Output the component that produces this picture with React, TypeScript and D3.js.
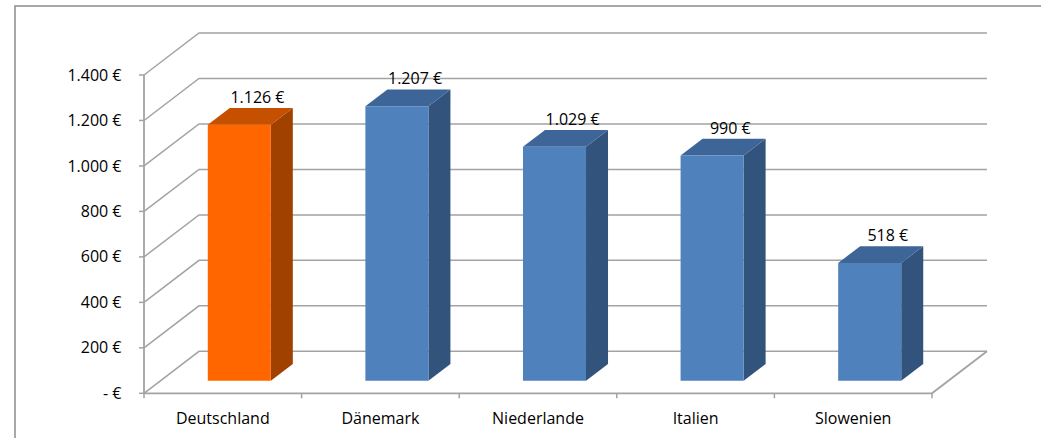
import React from "react";
import * as d3 from "d3";

const categories: string[] = ["Deutschland", "Dänemark", "Niederlande", "Italien", "Slowenien"];
const values: number[] = [1126, 1207, 1029, 990, 518];
const highlight: boolean[] = [true, false, false, false, false];
const tickValues: number[] = [0, 200, 400, 600, 800, 1000, 1200, 1400];

const W = 1041;
const H = 438;
const DX = 55;
const DY = 42;
const FONT = "'Open Sans', 'Noto Sans', sans-serif";

const loc = d3.formatLocale({ decimal: ",", thousands: ".", grouping: [3], currency: ["", " €"] });
const fmtNum = loc.format(",.0f");
const fmtEuro = (v: number) => (v === 0 ? "- €" : `${fmtNum(v)} €`);

const proj = (x: number, y: number, d: number): [number, number] => [x + DX * d, y - DY * d];
const pts = (p: [number, number][]) => p.map((q) => q.join(",")).join(" ");

export default function App() {
  const x = d3.scaleBand<string>().domain(categories).range([144, 932]).padding(0);
  const y = d3.scaleLinear().domain([0, 1400]).range([393.3, 75]);
  const bw = x.bandwidth();
  const [x0, x1] = x.range();
  const y0 = y(0);

  const grid = "#a3a3a3";
  const colors = {
    orange: { front: "#ff6600", top: "#c45000", side: "#a04100" },
    blue: { front: "#4f81bd", top: "#3d6597", side: "#31537c" },
  };

  return (
    <div style={{ position: "fixed", left: 0, top: 0 }}>
      <svg width={W} height={H} style={{ display: "block", background: "#fff" }}>
        <rect x={15} y={6} width={1100} height={600} fill="#fff" stroke="#8c8c8c" strokeWidth={1.5} />
        {/* gridlines: left wall diagonal + back wall horizontal */}
        {tickValues.map((t) => {
          const yy = y(t);
          const a = proj(x0, yy, 0);
          const b = proj(x0, yy, 1);
          const c = proj(x1, yy, 1);
          return (
            <polyline key={t} points={pts([a, b, c])} fill="none" stroke={grid} strokeWidth={1.5} />
          );
        })}
        {/* floor */}
        <polyline
          points={pts([proj(x0, y0, 0), proj(x1, y0, 0), proj(x1, y0, 1)])}
          fill="none"
          stroke={grid}
          strokeWidth={1.8}
        />
        {/* value axis */}
        <line x1={x0} x2={x0} y1={y(1400)} y2={y0} stroke={grid} strokeWidth={1.8} />
        {tickValues.map((t) => (
          <g key={"t" + t}>
            <line x1={x0 - 5} x2={x0} y1={y(t)} y2={y(t)} stroke={grid} strokeWidth={1.5} />
            <text x={121.5} y={y(t)} dy="0.35em" textAnchor="end" fontFamily={FONT} fontSize={16} fill="#000">
              {fmtEuro(t)}
            </text>
          </g>
        ))}
        {/* category ticks */}
        {[...categories.map((c) => x(c) as number), x1].map((v, i) => (
          <line key={"c" + i} x1={v} x2={v} y1={y0} y2={y0 + 5} stroke={grid} strokeWidth={1.5} />
        ))}
        {categories.map((c) => (
          <text
            key={"l" + c}
            x={(x(c) as number) + bw / 2}
            y={424}
            textAnchor="middle"
            fontFamily={FONT}
            fontSize={16}
            fill="#000"
          >
            {c}
          </text>
        ))}
        {/* bars */}
        {categories.map((c, i) => {
          const v = values[i];
          const col = highlight[i] ? colors.orange : colors.blue;
          const L = (x(c) as number) + bw * 0.3;
          const R = L + bw * 0.4;
          const yt = y(v);
          const d1 = 0.3;
          const d2 = 0.7;
          const fTL = proj(L, yt, d1);
          const fTR = proj(R, yt, d1);
          const fBR = proj(R, y0, d1);
          const fBL = proj(L, y0, d1);
          const bTL = proj(L, yt, d2);
          const bTR = proj(R, yt, d2);
          const bBR = proj(R, y0, d2);
          const labelX = proj(L + bw * 0.2, yt, 0.63)[0];
          const labelY = fTL[1] - 22;
          return (
            <g key={"b" + c}>
              <polygon points={pts([fTR, bTR, bBR, fBR])} fill={col.side} />
              <polygon points={pts([fTL, bTL, bTR, fTR])} fill={col.top} />
              <polygon points={pts([fTL, fTR, fBR, fBL])} fill={col.front} />
              <text x={labelX} y={labelY} textAnchor="middle" fontFamily={FONT} fontSize={16} fill="#000">
                {fmtEuro(v)}
              </text>
            </g>
          );
        })}
      </svg>
    </div>
  );
}
